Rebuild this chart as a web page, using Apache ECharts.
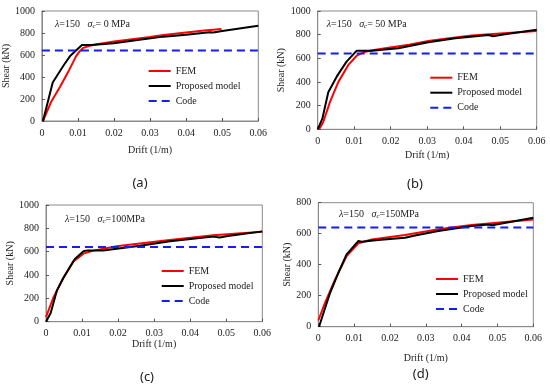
<!DOCTYPE html>
<html><head><meta charset="utf-8">
<script src="https://cdn.jsdelivr.net/npm/echarts@6/dist/echarts.min.js"></script>
<style>html,body{margin:0;padding:0;background:#fff}#c{width:550px;height:390px}</style>
</head><body><div id="c"></div>
<script>
// Drift (1/m), Shear (kN)
var xTicks = [0, 0.01, 0.02, 0.03, 0.04, 0.05, 0.06];
var femA = [[0.0003,0],[0.0025,170],[0.005,310],[0.0075,460],[0.0095,590],[0.0105,635],[0.0115,665],[0.013,682],[0.0152,697],[0.02,722],[0.0245,742],[0.03,764],[0.0337,782],[0.04,805],[0.045,822],[0.0498,836]];
var pmA = [[0.0003,0],[0.003,350],[0.006,505],[0.0079,594],[0.0111,691],[0.0138,690],[0.0199,706],[0.0245,727],[0.0337,767],[0.04,785],[0.0465,807],[0.0475,804],[0.05,818],[0.06,865]];
var femB = [[0.0004,0],[0.0015,60],[0.0034,234],[0.0057,403],[0.0084,544],[0.0107,622],[0.0125,651],[0.015,668],[0.0194,690],[0.025,715],[0.0303,746],[0.036,770],[0.0422,792],[0.05,810],[0.06,831]];
var pmB = [[0,0],[0.0013,93],[0.0029,313],[0.0052,445],[0.0079,572],[0.0107,665],[0.0116,663],[0.0148,665],[0.0221,686],[0.0303,735],[0.0377,769],[0.0468,797],[0.048,787],[0.0513,803],[0.06,842]];
var femC = [[0,40],[0.002,203],[0.0048,374],[0.0076,517],[0.0104,583],[0.0131,609],[0.0196,646],[0.0325,694],[0.0464,740],[0.06,771]];
var pmC = [[0,0],[0.0013,74],[0.003,266],[0.0048,374],[0.008,537],[0.0104,603],[0.0115,611],[0.0159,611],[0.0196,626],[0.0261,651],[0.0344,689],[0.0464,729],[0.0482,721],[0.05,733],[0.06,774]];
var femD = [[0,40],[0.0019,155],[0.0047,305],[0.0079,456],[0.0112,538],[0.0149,563],[0.0242,591],[0.0335,628],[0.0428,656],[0.06,692]];
var pmD = [[0.0002,0],[0.0033,219],[0.0056,348],[0.0079,467],[0.0112,553],[0.0121,548],[0.0167,559],[0.0242,574],[0.027,589],[0.0335,617],[0.0428,649],[0.0475,660],[0.0485,655],[0.06,703]];
var codeValue = 640;
var yMax = [1000, 1000, 1000, 800];
var sigma = ['= 0 MPa', '= 50 MPa', '=100MPa', '=150MPa'];
var captions = ['(a)', '(b)', '(c)', '(d)'];
var seriesNames = ['FEM', 'Proposed model', 'Code'];

var femAll = [femA, femB, femC, femD];
var pmAll = [pmA, pmB, pmC, pmD];

var grids = [
  {left:41.7, top:11, width:216.6, height:110},
  {left:317.7, top:11, width:219, height:118.3},
  {left:46, top:205, width:216.3, height:116.7},
  {left:318.3, top:202.7, width:215, height:124}
];
var xNameGap = [24, 21.5, 16, 26.5];
var yNameGap = [25, 25, 26.5, 25];
var annPos = [[55,24],[326.7,24],[65,219],[339,214]];
var capPos = [[140,183],[415,184],[147,377.7],[420.7,374]];
var legPos = [[147.7,66],[429.3,72.7],[160.7,266],[435,274]];

var font = 'Liberation Serif';
var xAxes = [], yAxes = [], series = [], legends = [], graphics = [];
for (var i = 0; i < 4; i++) {
  grids[i].show = true; grids[i].borderColor = '#8a8a8a'; grids[i].borderWidth = 1;
  xAxes.push({
    gridIndex: i, type: 'value', min: 0, max: 0.06, interval: 0.01,
    name: 'Drift (1/m)', nameLocation: 'middle', nameGap: xNameGap[i],
    nameTextStyle: {fontFamily: font, fontSize: 10, color: '#222'},
    axisLine: {show: true, lineStyle: {color: '#8a8a8a'}},
    axisTick: {show: true, inside: true, length: 3, lineStyle: {color: '#555'}},
    splitLine: {show: false},
    axisLabel: {fontFamily: font, fontSize: 10, color: '#222', margin: 7,
      formatter: function (v) { return v === 0 ? '0' : v.toFixed(2); }}
  });
  yAxes.push({
    gridIndex: i, type: 'value', min: 0, max: yMax[i], interval: 200,
    name: 'Shear (kN)', nameLocation: 'middle', nameGap: yNameGap[i], nameRotate: 90,
    nameTextStyle: {fontFamily: font, fontSize: 10, color: '#222'},
    axisLine: {show: true, lineStyle: {color: '#8a8a8a'}},
    axisTick: {show: true, inside: true, length: 3, lineStyle: {color: '#555'}},
    splitLine: {show: false},
    axisLabel: {fontFamily: font, fontSize: 10, color: '#222', margin: 7,
      formatter: function (v) { return String(v); }}
  });
  series.push({name: 'FEM', type: 'line', xAxisIndex: i, yAxisIndex: i, data: femAll[i],
    showSymbol: false, symbol: 'none', lineStyle: {color: '#ff0000', width: 2}, itemStyle: {color: '#ff0000'}, z: 2});
  series.push({name: 'Proposed model', type: 'line', xAxisIndex: i, yAxisIndex: i, data: pmAll[i],
    showSymbol: false, symbol: 'none', lineStyle: {color: '#000', width: 2}, itemStyle: {color: '#000'}, z: 3});
  series.push({name: 'Code', type: 'line', xAxisIndex: i, yAxisIndex: i, data: [[0, codeValue], [0.06, codeValue]],
    showSymbol: false, symbol: 'none', lineStyle: {color: '#1020f0', width: 2, type: [8, 5]}, itemStyle: {color: '#1020f0'}, z: 4});
  legends.push({
    orient: 'vertical', left: legPos[i][0], top: legPos[i][1], padding: 0,
    itemWidth: 22, itemHeight: 10, itemGap: 5, selectedMode: false,
    itemStyle: {opacity: 0},
    data: seriesNames,
    textStyle: {fontFamily: font, fontSize: 10, color: '#222'}
  });
  graphics.push({
    type: 'text', x: annPos[i][0], y: annPos[i][1],
    style: {
      text: '{i|λ}=150   {i|σ}{s|c}' + sigma[i],
      fontFamily: font, fontSize: 10, fill: '#222', verticalAlign: 'middle',
      rich: {
        i: {fontFamily: font, fontSize: 10, fontStyle: 'italic', fill: '#222'},
        s: {fontFamily: font, fontSize: 7, fontStyle: 'italic', fill: '#222', verticalAlign: 'bottom', padding: [4, 0, 0, 0]}
      }
    }
  });
  graphics.push({
    type: 'text', x: capPos[i][0], y: capPos[i][1],
    style: {text: captions[i], fontFamily: 'Noto Sans', fontSize: 13, fill: '#222', align: 'center', verticalAlign: 'middle'}
  });
}

var chart = echarts.init(document.getElementById('c'), null, {renderer: 'canvas'});
chart.setOption({
  animation: false,
  backgroundColor: '#fff',
  grid: grids, xAxis: xAxes, yAxis: yAxes, series: series, legend: legends, graphic: graphics
});
</script></body></html>
